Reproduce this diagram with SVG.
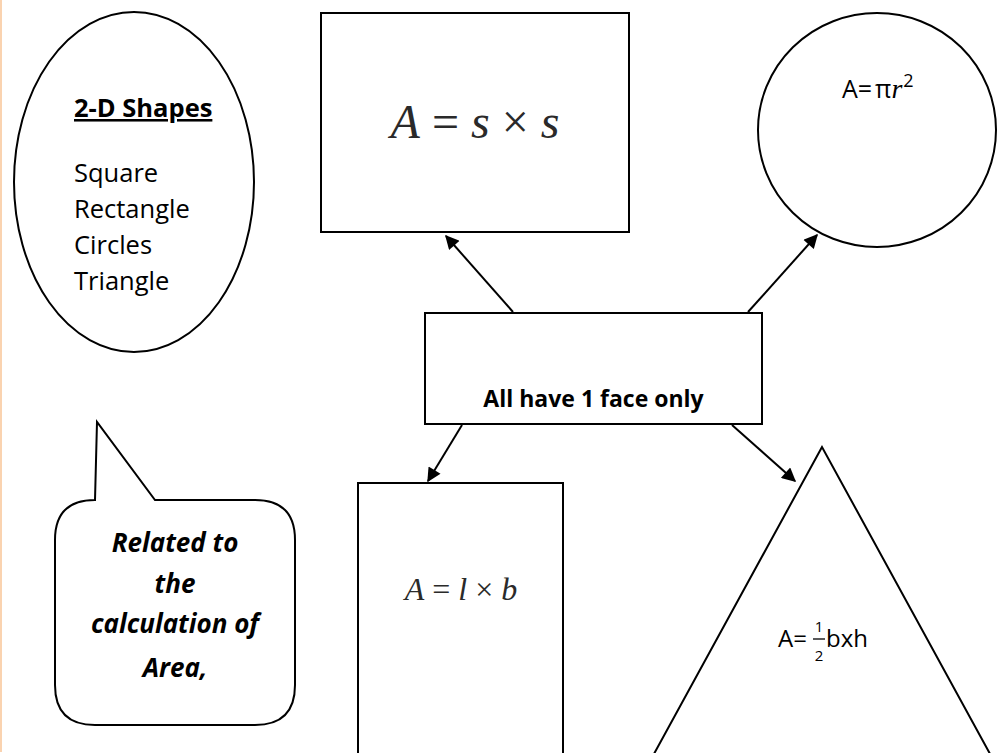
<svg xmlns="http://www.w3.org/2000/svg" width="997" height="753" viewBox="0 0 997 753">
<style>
.shape{fill:#fff;stroke:#000;stroke-width:2}
.conn{stroke:#000;stroke-width:2;fill:none;marker-end:url(#ah)}
.sans{font-family:"Open Sans","Noto Sans",sans-serif;fill:#000}
.math{font-family:"Liberation Serif","Times New Roman",serif;fill:#2a2a2a}
</style>
<defs>
<marker id="ah" viewBox="0 0 10 10" refX="9" refY="5" markerWidth="8" markerHeight="7" orient="auto" markerUnits="strokeWidth">
<path d="M0,0 L10,5 L0,10 z" fill="#000"/>
</marker>
</defs>
<rect width="997" height="753" fill="#fff"/>
<line x1="1" y1="0" x2="1" y2="752" stroke="#fad3b0" stroke-width="2"/>

<g id="shapes-ellipse">
<ellipse class="shape" cx="134" cy="182" rx="120" ry="170"/>
<text class="sans" x="74" y="117" font-size="25.5" font-weight="bold" text-decoration="underline">2-D Shapes</text>
<text class="sans" font-size="25.5"><tspan x="74" y="182">Square</tspan><tspan x="74" y="218">Rectangle</tspan><tspan x="74" y="254">Circles</tspan><tspan x="74" y="290">Triangle</tspan></text>
</g>

<g id="square">
<rect class="shape" x="321" y="13" width="308" height="219"/>
<text class="math" x="475" y="138" font-size="48" text-anchor="middle"><tspan font-style="italic">A</tspan> = <tspan font-style="italic">s</tspan> × <tspan font-style="italic">s</tspan></text>
</g>

<g id="circle">
<ellipse class="shape" cx="877" cy="130" rx="119" ry="117"/>
<text class="sans" x="842" y="98" font-size="25">A=<tspan dx="3">π</tspan><tspan font-family="Liberation Serif,serif" font-style="italic" font-size="28">r</tspan><tspan font-size="18" dy="-11" dx="1">2</tspan></text>
</g>

<g id="center">
<rect class="shape" x="425" y="313" width="337" height="111"/>
<text class="sans" x="593.5" y="407" font-size="23" font-weight="bold" text-anchor="middle">All have 1 face only</text>
</g>

<g id="rectangle">
<rect class="shape" x="358" y="483" width="205" height="290"/>
<text class="math" x="461" y="600" font-size="32" text-anchor="middle"><tspan font-style="italic">A</tspan> = <tspan font-style="italic">l</tspan> × <tspan font-style="italic">b</tspan></text>
</g>

<g id="triangle">
<polygon class="shape" points="822,447 649,763 995,763"/>
<text class="sans" x="778" y="647" font-size="24">A=</text>
<text class="sans" x="819" y="632" font-size="15" text-anchor="middle">1</text>
<line x1="813" y1="639" x2="825" y2="639" stroke="#000" stroke-width="1.3"/>
<text class="sans" x="819" y="661" font-size="15" text-anchor="middle">2</text>
<text class="sans" x="826" y="647" font-size="24">bxh</text>
</g>

<g id="callout">
<path class="shape" d="M95,500 L97,422 L155,500 L255,500 Q295,500 295,540 L295,685 Q295,725 255,725 L95,725 Q55,725 55,685 L55,540 Q55,500 95,500 Z"/>
<g class="sans" font-size="26" font-weight="bold" font-style="italic" text-anchor="middle">
<text x="175" y="552">Related to</text>
<text x="175" y="593">the</text>
<text x="175" y="633">calculation of</text>
<text x="175" y="677">Area,</text>
</g>
</g>

<g id="connectors">
<line class="conn" x1="513" y1="312" x2="446" y2="236"/>
<line class="conn" x1="748" y1="312" x2="817" y2="235"/>
<line class="conn" x1="462" y1="425" x2="428" y2="481"/>
<line class="conn" x1="732" y1="425" x2="795" y2="481"/>
</g>
</svg>
